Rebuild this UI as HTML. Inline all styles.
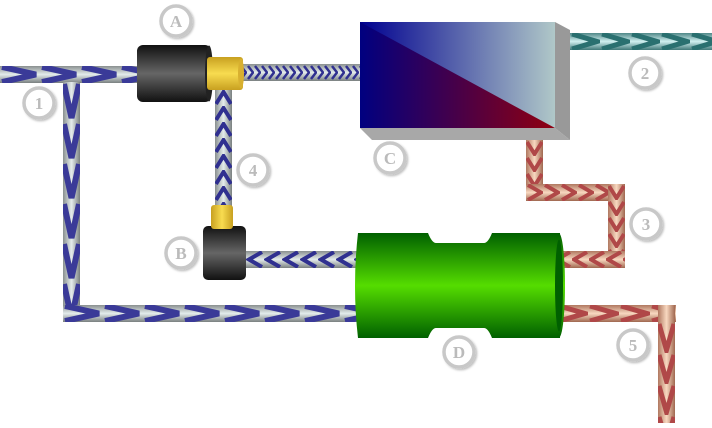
<!DOCTYPE html>
<html><head><style>html,body{margin:0;padding:0;background:#fff;overflow:hidden}</style></head>
<body>
<svg width="712" height="423" viewBox="0 0 712 423" xmlns="http://www.w3.org/2000/svg" font-family="Liberation Serif, serif">
<defs>
<linearGradient id="gH" x1="0" y1="0" x2="0" y2="1"><stop offset="0" stop-color="#8a9090"/><stop offset="0.5" stop-color="#e4ecec"/><stop offset="1" stop-color="#7a8080"/></linearGradient>
<linearGradient id="gV" x1="0" y1="0" x2="1" y2="0"><stop offset="0" stop-color="#8a9090"/><stop offset="0.5" stop-color="#e4ecec"/><stop offset="1" stop-color="#7a8080"/></linearGradient>
<linearGradient id="rH" x1="0" y1="0" x2="0" y2="1"><stop offset="0" stop-color="#b07860"/><stop offset="0.5" stop-color="#f8d8c0"/><stop offset="1" stop-color="#a06850"/></linearGradient>
<linearGradient id="rV" x1="0" y1="0" x2="1" y2="0"><stop offset="0" stop-color="#b07860"/><stop offset="0.5" stop-color="#f8d8c0"/><stop offset="1" stop-color="#a06850"/></linearGradient>
<linearGradient id="tH" x1="0" y1="0" x2="0" y2="1"><stop offset="0" stop-color="#508888"/><stop offset="0.5" stop-color="#d0f0f0"/><stop offset="1" stop-color="#407878"/></linearGradient>
<linearGradient id="blk" x1="0" y1="0" x2="0" y2="1"><stop offset="0" stop-color="#111"/><stop offset="0.5" stop-color="#666"/><stop offset="1" stop-color="#111"/></linearGradient>
<linearGradient id="yel" x1="0" y1="0" x2="0" y2="1"><stop offset="0" stop-color="#c8a020"/><stop offset="0.5" stop-color="#f8dc50"/><stop offset="1" stop-color="#c8a020"/></linearGradient>
<linearGradient id="yelV" x1="0" y1="0" x2="1" y2="0"><stop offset="0" stop-color="#c8a020"/><stop offset="0.5" stop-color="#f8dc50"/><stop offset="1" stop-color="#c8a020"/></linearGradient>
<linearGradient id="grn" x1="0" y1="0" x2="0" y2="1"><stop offset="0" stop-color="#006000"/><stop offset="0.5" stop-color="#55dd00"/><stop offset="1" stop-color="#006000"/></linearGradient>
<linearGradient id="cb" x1="0" y1="0" x2="1" y2="0"><stop offset="0" stop-color="#000090"/><stop offset="1" stop-color="#b0c8c8"/></linearGradient>
<linearGradient id="cr" x1="0" y1="0" x2="1" y2="0"><stop offset="0" stop-color="#000080"/><stop offset="1" stop-color="#900010"/></linearGradient>
<pattern id="pR" width="40" height="17" patternUnits="userSpaceOnUse" x="0" y="66"><path d="M2,1 L36,8.5 L2,16" fill="none" stroke="#3a3a98" stroke-width="6"/></pattern>
<pattern id="pR2" width="40" height="17" patternUnits="userSpaceOnUse" x="63" y="305"><path d="M2,1 L36,8.5 L2,16" fill="none" stroke="#3a3a98" stroke-width="6"/></pattern>
<pattern id="pD" width="17" height="40" patternUnits="userSpaceOnUse" x="63" y="82"><path d="M1,2 L8.5,36 L16,2" fill="none" stroke="#3a3a98" stroke-width="6"/></pattern>
<pattern id="pU" width="17" height="16" patternUnits="userSpaceOnUse" x="215" y="90"><path d="M1,14 L8.5,2 L16,14" fill="none" stroke="#303090" stroke-width="4"/></pattern>
<pattern id="pF" width="7" height="17" patternUnits="userSpaceOnUse" x="240" y="64"><path d="M1,2 L6,8.5 L1,15" fill="none" stroke="#303090" stroke-width="2.5"/></pattern>
<pattern id="pL" width="18" height="17" patternUnits="userSpaceOnUse" x="246" y="251"><path d="M16,1 L3,8.5 L16,16" fill="none" stroke="#303090" stroke-width="4"/></pattern>
<pattern id="pT" width="30" height="17" patternUnits="userSpaceOnUse" x="570" y="33"><path d="M2,1 L27,8.5 L2,16" fill="none" stroke="#2a7070" stroke-width="5"/></pattern>
<pattern id="rRd" width="17" height="16" patternUnits="userSpaceOnUse" x="526" y="140"><path d="M1,2 L8.5,14 L16,2" fill="none" stroke="#b04848" stroke-width="4"/></pattern>
<pattern id="rRr" width="17" height="17" patternUnits="userSpaceOnUse" x="526" y="184"><path d="M2,1 L15,8.5 L2,16" fill="none" stroke="#b04848" stroke-width="4"/></pattern>
<pattern id="rRv" width="17" height="16" patternUnits="userSpaceOnUse" x="608" y="184"><path d="M1,2 L8.5,14 L16,2" fill="none" stroke="#b04848" stroke-width="4"/></pattern>
<pattern id="rRl" width="17" height="17" patternUnits="userSpaceOnUse" x="555" y="251"><path d="M15,1 L2,8.5 L15,16" fill="none" stroke="#b04848" stroke-width="4"/></pattern>
<pattern id="r5h" width="31" height="17" patternUnits="userSpaceOnUse" x="557" y="305"><path d="M2,1 L28,8.5 L2,16" fill="none" stroke="#b04848" stroke-width="5"/></pattern>
<pattern id="r5v" width="17" height="31" patternUnits="userSpaceOnUse" x="658" y="322"><path d="M1,2 L8.5,28 L16,2" fill="none" stroke="#b04848" stroke-width="5"/></pattern>
<filter id="sh"><feDropShadow dx="1.5" dy="1.5" stdDeviation="1" flood-color="#000" flood-opacity="0.25"/></filter>
</defs>
<rect x="0" y="66" width="140" height="17" fill="url(#gH)"/><rect x="0" y="66" width="140" height="17" fill="url(#pR)"/>
<rect x="63" y="82" width="17" height="240" fill="url(#gV)"/><rect x="63" y="82" width="17" height="224" fill="url(#pD)"/>
<rect x="63" y="305" width="294" height="17" fill="url(#gH)"/><rect x="63" y="305" width="294" height="17" fill="url(#pR2)"/>
<rect x="240" y="64" width="122" height="17" fill="url(#gH)"/><rect x="240" y="64" width="122" height="17" fill="url(#pF)"/>
<rect x="215" y="88" width="17" height="118" fill="url(#gV)"/><rect x="215" y="88" width="17" height="118" fill="url(#pU)"/>
<rect x="244" y="251" width="113" height="17" fill="url(#gH)"/><rect x="244" y="251" width="113" height="17" fill="url(#pL)"/>
<rect x="137" y="45" width="74" height="57" rx="6" fill="url(#blk)"/>
<ellipse cx="209" cy="73.5" rx="4" ry="28" fill="#222"/>
<rect x="207" y="57" width="36" height="33" rx="3" fill="url(#yel)"/>
<ellipse cx="241" cy="73.5" rx="3" ry="15" fill="#d8b030"/>
<rect x="203" y="226" width="43" height="54" rx="5" fill="url(#blk)"/>
<rect x="211" y="205" width="22" height="24" rx="3" fill="url(#yelV)"/>
<polygon points="360,128 555,128 570,140 372,140" fill="#a8a8a8"/>
<polygon points="555,22 570,30 570,140 555,128" fill="#999"/>
<polygon points="360,22 555,22 555,128 360,128" fill="url(#cb)"/>
<polygon points="360,22 555,128 360,128" fill="url(#cr)"/>
<rect x="570" y="33" width="142" height="17" fill="url(#tH)"/><rect x="570" y="33" width="142" height="17" fill="url(#pT)"/>
<rect x="526" y="140" width="17" height="61" fill="url(#rV)"/><rect x="526" y="140" width="17" height="44" fill="url(#rRd)"/>
<rect x="526" y="184" width="99" height="17" fill="url(#rH)"/><rect x="526" y="184" width="82" height="17" fill="url(#rRr)"/>
<rect x="608" y="184" width="17" height="84" fill="url(#rV)"/><rect x="608" y="184" width="17" height="67" fill="url(#rRv)"/>
<rect x="555" y="251" width="70" height="17" fill="url(#rH)"/><rect x="555" y="251" width="70" height="17" fill="url(#rRl)"/>
<rect x="557" y="305" width="119" height="17" fill="url(#rH)"/><rect x="557" y="305" width="101" height="17" fill="url(#r5h)"/>
<rect x="658" y="305" width="17" height="118" fill="url(#rV)"/><rect x="658" y="322" width="17" height="101" fill="url(#r5v)"/>
<path d="M358,233 L428,233 Q432,243 436,243 L484,243 Q488,243 492,233 L560,233 L560,338 L492,338 Q488,328 484,328 L436,328 Q432,328 428,338 L358,338 Q352,286 358,233 Z" fill="url(#grn)"/>
<ellipse cx="559" cy="285.5" rx="6" ry="52" fill="url(#grn)"/>
<ellipse cx="559" cy="285.5" rx="4" ry="46" fill="#006000"/>
<g fill="#fff" stroke="#c8c8c8" stroke-width="3.5" filter="url(#sh)">
<circle cx="176" cy="21" r="15"/><circle cx="39" cy="103" r="15"/><circle cx="253" cy="170" r="15"/>
<circle cx="181" cy="253" r="15"/><circle cx="390" cy="158" r="15"/><circle cx="645" cy="73" r="15"/>
<circle cx="646" cy="224" r="15"/><circle cx="633" cy="345" r="15"/><circle cx="459" cy="352" r="15"/>
</g>
<g fill="#bbb" font-size="17" font-weight="bold" text-anchor="middle">
<text x="176" y="27">A</text><text x="39" y="109">1</text><text x="253" y="176">4</text>
<text x="181" y="259">B</text><text x="390" y="164">C</text><text x="645" y="79">2</text>
<text x="646" y="230">3</text><text x="633" y="351">5</text><text x="459" y="358">D</text>
</g>
</svg>
</body></html>
